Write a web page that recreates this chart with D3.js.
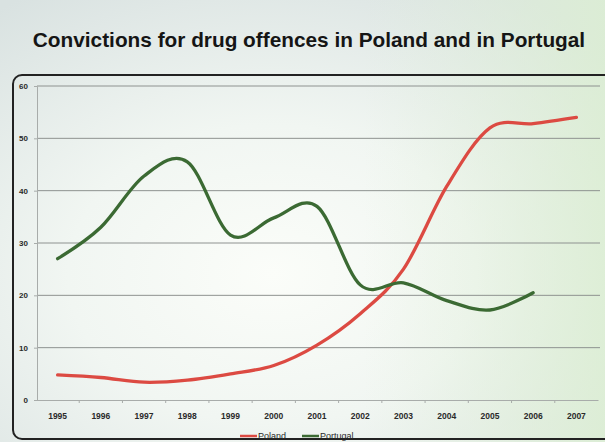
<!DOCTYPE html>
<html>
<head>
<meta charset="utf-8">
<script src="https://cdn.jsdelivr.net/npm/d3@7/dist/d3.min.js"></script>
<style>
  html, body { margin: 0; padding: 0; background: #e9eeec; }
  svg { display: block; }
</style>
</head>
<body>
<div id="chart"></div>
<script>
// Data
var years = ['1995', '1996', '1997', '1998', '1999', '2000', '2001', '2002', '2003', '2004', '2005', '2006', '2007'];
var poland = [4.8, 4.3, 3.4, 3.8, 5.0, 6.6, 10.5, 16.5, 25, 40.8, 52, 52.8, 54];
var portugal = [27, 33, 42.8, 45.5, 31.5, 34.8, 37, 22, 22.4, 19, 17.2, 20.5];
var yTicks = [0, 10, 20, 30, 40, 50, 60];
var seriesNames = ['Poland', 'Portugal'];
var seriesColors = ['#dc4a42', '#3b6a33'];

var width = 605, height = 442;
var svg = d3.select('#chart').append('svg').attr('width', width).attr('height', height);

// photo-like background
var defs = svg.append('defs');
var bg = defs.append('radialGradient').attr('id', 'bg')
  .attr('cx', '0.45').attr('cy', '0.62').attr('r', '0.75');
bg.append('stop').attr('offset', '0').attr('stop-color', '#fbfdf9');
bg.append('stop').attr('offset', '0.45').attr('stop-color', '#f1f6f2');
bg.append('stop').attr('offset', '1').attr('stop-color', '#d9e2e1');
var bg2 = defs.append('linearGradient').attr('id', 'bg2')
  .attr('x1', '0').attr('x2', '1').attr('y1', '0').attr('y2', '0');
bg2.append('stop').attr('offset', '0.6').attr('stop-color', '#e4f2dc').attr('stop-opacity', 0);
bg2.append('stop').attr('offset', '1').attr('stop-color', '#dcefd2').attr('stop-opacity', 0.8);

svg.append('rect').attr('width', width).attr('height', height).attr('fill', 'url(#bg)');
svg.append('rect').attr('width', width).attr('height', height).attr('fill', 'url(#bg2)');

// title
svg.append('text')
  .attr('x', 309).attr('y', 47)
  .attr('text-anchor', 'middle')
  .style('font-family', '"Liberation Sans", Arial, sans-serif')
  .style('font-weight', 'bold')
  .style('font-size', '20.8px')
  .style('fill', '#151515')
  .text('Convictions for drug offences in Poland and in Portugal');

// chart frame
svg.append('rect')
  .attr('x', 13).attr('y', 75).attr('width', 640).attr('height', 364)
  .attr('rx', 9)
  .attr('fill', 'none')
  .attr('stroke', '#222')
  .attr('stroke-width', 2);

var x = d3.scaleBand().domain(years).range([36, 598]);
var y = d3.scaleLinear().domain([0, 60]).range([400, 86]);

// gridlines
svg.append('g').selectAll('line').data(yTicks.filter(function (d) { return d > 0; })).enter().append('line')
  .attr('x1', 37).attr('x2', 600)
  .attr('y1', function (d) { return y(d); })
  .attr('y2', function (d) { return y(d); })
  .attr('stroke', '#8e9290')
  .attr('stroke-width', 1);

// y axis
var yAxis = d3.axisLeft(y).tickValues(yTicks).tickSize(3).tickPadding(6);
var gy = svg.append('g').attr('transform', 'translate(37,0)').call(yAxis);
gy.select('.domain').attr('stroke', '#a8acaa');
gy.selectAll('.tick line').attr('stroke', '#a8acaa');
gy.selectAll('text')
  .style('font-family', '"Liberation Sans", Arial, sans-serif')
  .style('font-weight', 'bold')
  .style('font-size', '8px')
  .style('fill', '#2a2a2a');

// x axis
var xAxis = d3.axisBottom(x).tickSize(0).tickPadding(13);
var gx = svg.append('g').attr('transform', 'translate(0,' + y(0) + ')').call(xAxis);
gx.select('.domain').attr('stroke', '#a8acaa');
gx.selectAll('text')
  .style('font-family', '"Liberation Sans", Arial, sans-serif')
  .style('font-weight', 'bold')
  .style('font-size', '8.5px')
  .style('fill', '#2a2a2a');
gx.selectAll('.sep').data(years.slice(1)).enter().append('line')
  .attr('class', 'sep')
  .attr('x1', function (d) { return x(d); })
  .attr('x2', function (d) { return x(d); })
  .attr('y1', 0).attr('y2', 3)
  .attr('stroke', '#a8acaa');

// lines
var line = d3.line()
  .x(function (d, i) { return x(years[i]) + x.bandwidth() / 2; })
  .y(function (d) { return y(d); })
  .curve(d3.curveCardinal.tension(0));

[poland, portugal].forEach(function (values, k) {
  svg.append('path')
    .datum(values)
    .attr('d', line)
    .attr('fill', 'none')
    .attr('stroke', seriesColors[k])
    .attr('stroke-width', 3.3)
    .attr('stroke-linecap', 'round');
});

// legend
var legendX = [240, 302];
var legend = svg.append('g').selectAll('g').data(seriesNames).enter().append('g')
  .attr('transform', function (d, i) { return 'translate(' + legendX[i] + ',436)'; });
legend.append('line')
  .attr('x1', 0).attr('x2', 17).attr('y1', 0).attr('y2', 0)
  .attr('stroke', function (d, i) { return seriesColors[i]; })
  .attr('stroke-width', 2.5);
legend.append('text')
  .attr('x', 18).attr('y', 3)
  .style('font-family', '"Liberation Sans", Arial, sans-serif')
  .style('font-size', '9px')
  .style('fill', '#2a2a2a')
  .text(function (d) { return d; });
</script>
</body>
</html>
